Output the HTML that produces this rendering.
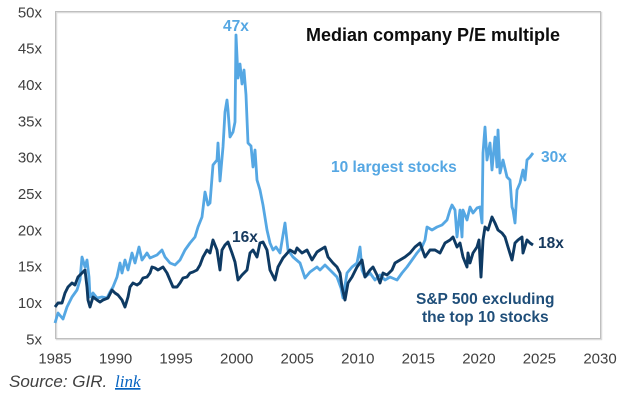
<!DOCTYPE html>
<html><head><meta charset="utf-8"><style>
html,body{margin:0;padding:0;background:#fff;}
svg{display:block;}
text{font-family:"Liberation Sans",Arial,sans-serif;}
</style></head><body>
<svg width="630" height="400" viewBox="0 0 630 400" xmlns="http://www.w3.org/2000/svg">
<rect x="0" y="0" width="630" height="400" fill="#fff"/>
<!-- frame -->
<rect x="56.5" y="12.5" width="545" height="327" fill="none" stroke="#dcdcdc" stroke-width="1.5"/>
<rect x="55.5" y="11.5" width="545" height="327" fill="none" stroke="#bfbfbf" stroke-width="1"/>
<!-- y ticks -->
<g font-size="15" fill="#404040" text-anchor="end">
<text x="42" y="17.3">50x</text>
<text x="42" y="53.7">45x</text>
<text x="42" y="90">40x</text>
<text x="42" y="126.3">35x</text>
<text x="42" y="162.6">30x</text>
<text x="42" y="198.9">25x</text>
<text x="42" y="235.3">20x</text>
<text x="42" y="271.6">15x</text>
<text x="42" y="307.9">10x</text>
<text x="42" y="344.3">5x</text>
</g>
<!-- x ticks -->
<g font-size="15" fill="#404040" text-anchor="middle">
<text x="55" y="363.5">1985</text>
<text x="115.6" y="363.5">1990</text>
<text x="176.1" y="363.5">1995</text>
<text x="236.7" y="363.5">2000</text>
<text x="297.2" y="363.5">2005</text>
<text x="357.8" y="363.5">2010</text>
<text x="418.3" y="363.5">2015</text>
<text x="478.9" y="363.5">2020</text>
<text x="539.4" y="363.5">2025</text>
<text x="600" y="363.5">2030</text>
</g>
<!-- light series -->
<polyline fill="none" stroke="#55a7e3" stroke-width="2.8" stroke-linejoin="round" points="
55,323 58,313 63,319 67,307 72,297 77,290 80,280 82,257 85,267 87,260 89,277 90,297 93,293 97,298 102,297 107,298 110,292 113,287 117,277 120,263 122,273 125,260 128,270 132,253 135,263 139,247 142,260 147,253 150,258 157,255 162,250 165,257 170,263 175,265 180,260 185,250 190,243 195,237 198,227 202,217 205,192 208,205 210,203 213,165 217,160 218,143 220,181 223,147 225,112 227,100 228,110 230,137 233,132 235,122 236,35 238,78 240,64 242,84 244,70 246,95 248,143 251,146 253,167 255,150 257,180 260,190 263,205 267,230 270,243 273,250 276,247 280,253 285,223 288,250 293,257 300,263 305,278 310,272 317,267 320,270 325,265 330,270 337,277 341,288 343,298 347,273 352,267 357,263 360,247 362,270 365,277 370,273 375,280 380,275 385,280 390,277 397,280 402,273 407,267 412,260 417,253 422,247 425,240 427,227 432,230 437,227 442,225 447,220 450,210 452,205 455,210 457,237 460,210 462,237 463,210 467,220 470,207 473,213 477,208 480,207 482,223 483,153 485,127 487,160 490,143 492,170 495,137 497,167 498,130 500,173 503,160 507,177 510,180 512,207 513,210 515,223 517,190 520,183 523,170 525,180 527,160 530,157 533,153"/>
<!-- dark series -->
<polyline fill="none" stroke="#0e3a63" stroke-width="2.9" stroke-linejoin="round" points="
55,307 58,303 62,303 65,293 68,287 72,283 75,285 78,277 82,273 85,270 87,287 88,300 90,307 93,297 97,300 100,302 103,300 108,298 112,290 115,293 118,295 122,300 125,307 128,297 130,287 133,283 137,285 140,283 143,278 147,277 150,273 152,267 155,268 158,270 163,267 167,273 170,280 173,287 177,287 180,283 183,278 187,277 190,273 193,272 197,270 200,265 203,257 207,250 210,253 213,240 217,250 220,270 222,250 225,245 228,242 232,253 235,262 238,280 242,275 247,270 250,253 253,250 257,257 260,243 263,242 267,250 270,270 275,280 278,267 283,258 290,250 295,253 297,248 302,253 307,250 312,260 317,252 320,250 325,247 328,257 333,263 337,267 340,273 342,287 345,300 348,283 352,277 357,267 362,260 365,277 370,270 373,267 377,275 380,283 383,273 387,275 392,270 395,263 400,260 405,257 410,253 415,247 420,243 425,257 430,250 435,250 440,253 445,243 450,240 453,237 457,247 460,243 463,257 467,267 468,253 470,263 473,253 477,247 479,240 481,277 483,240 485,227 488,230 492,217 495,223 498,230 502,233 505,237 508,247 512,260 515,243 518,240 522,237 523,253 527,240 530,243 533,245"/>
<!-- title -->
<text x="306" y="41" font-size="18" font-weight="bold" fill="#0d0d0d">Median company P/E multiple</text>
<!-- labels -->
<g font-size="15.5" font-weight="bold">
<text x="223" y="31" fill="#55a7e3">47x</text>
<text x="331" y="172" fill="#55a7e3">10 largest stocks</text>
<text x="541" y="162" fill="#55a7e3">30x</text>
<text x="232" y="242" fill="#16395e">16x</text>
<text x="538" y="248" fill="#16395e">18x</text>
<text x="416" y="304" fill="#1f4e79">S&amp;P 500 excluding</text>
<text x="422" y="322" fill="#1f4e79">the top 10 stocks</text>
</g>
<!-- source -->
<text x="9" y="387" font-size="17" font-style="italic" fill="#404040">Source: GIR.</text>
<text x="115" y="387" font-size="17" font-style="italic" fill="#0563c1" text-decoration="underline" style="font-family:'Liberation Serif',serif;">link</text>
</svg>
</body></html>
